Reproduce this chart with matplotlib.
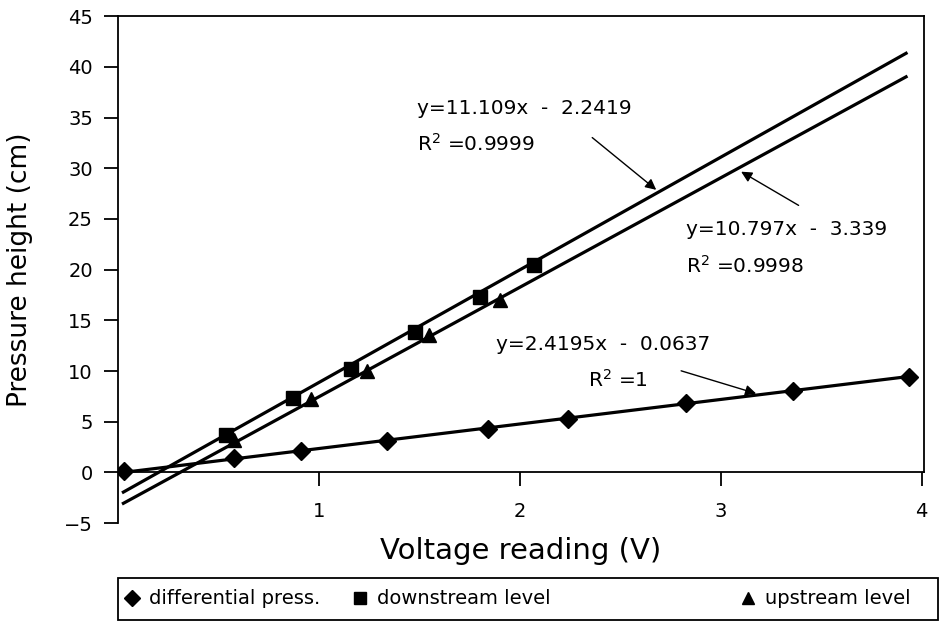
import numpy as np
import matplotlib.pyplot as plt
from matplotlib.patches import Rectangle

plt.rcParams['font.family'] = ['DejaVu Sans']

# Datos
x_diff = [0.03, 0.58, 0.91, 1.34, 1.84, 2.24, 2.83, 3.36, 3.94]
y_diff = [0.1, 1.4, 2.1, 3.1, 4.3, 5.3, 6.8, 8.0, 9.4]

x_down = [0.54, 0.87, 1.16, 1.48, 1.80, 2.07]
y_down = [3.7, 7.3, 10.2, 13.8, 17.3, 20.5]

x_up = [0.58, 0.96, 1.24, 1.55, 1.90]
y_up = [3.2, 7.2, 10.0, 13.6, 17.0]

# Rectas de ajuste (pendiente, ordenada, rango en x)
fit_slope = [2.4195, 11.109, 10.797]
fit_icpt = [-0.0637, -2.2419, -3.339]
fit_xmin = [0.03, 0.02, 0.02]
fit_xmax = [3.94, 3.93, 3.93]

eq_texts = ["y=2.4195x  -  0.0637", "y=11.109x  -  2.2419", "y=10.797x  -  3.339"]
r2_texts = ["R$^2$ =1", "R$^2$ =0.9999", "R$^2$ =0.9998"]

fig = plt.figure(figsize=(9.4, 6.22), dpi=100)
ax = fig.add_axes([0.1255, 0.159, 0.857, 0.815])

# Rectas
for m, b, x0, x1 in zip(fit_slope, fit_icpt, fit_xmin, fit_xmax):
    xs = np.array([x0, x1])
    ax.plot(xs, m * xs + b, color="black", lw=2.3, solid_capstyle="butt", zorder=2)

# Puntos
h1, = ax.plot(x_diff, y_diff, "D", color="black", ms=9.5, ls="none", zorder=3)
h2, = ax.plot(x_down, y_down, "s", color="black", ms=10.5, ls="none", zorder=3)
h3, = ax.plot(x_up, y_up, "^", color="black", ms=9.5, ls="none", zorder=3)

# Ejes
ax.set_xlim(0, 4.01)
ax.set_ylim(-5, 45)
ax.spines["bottom"].set_position(("data", 0))
ax.spines["right"].set_bounds(0, 45)
for s in ax.spines.values():
    s.set_linewidth(1.3)
ax.set_xticks([1, 2, 3, 4])
ax.set_yticks(np.arange(-5, 50, 5))
ax.tick_params(axis="x", direction="out", length=10, width=1.3, pad=11, labelsize=14)
ax.tick_params(axis="y", direction="out", length=10, width=1.3, pad=8, labelsize=14)

ax.set_xlabel("Voltage reading (V)", fontsize=21)
ax.xaxis.set_label_coords(0.5, -0.028)
ax.set_ylabel("Pressure height (cm)", fontsize=19)
ax.yaxis.set_label_coords(-0.105, 0.5)

# Anotaciones
arrow = dict(arrowstyle="-|>", color="black", lw=1.0, mutation_scale=16)
ax.text(1.49, 35.9, eq_texts[1], fontsize=14.5, va="center")
ax.text(1.49, 32.4, r2_texts[1], fontsize=14.5, va="center")
ax.annotate("", xy=(2.69, 27.7), xytext=(2.35, 33.2), arrowprops=arrow)

ax.text(2.83, 24.0, eq_texts[2], fontsize=14.5, va="center")
ax.text(2.83, 20.4, r2_texts[2], fontsize=14.5, va="center")
ax.annotate("", xy=(3.09, 29.8), xytext=(3.40, 26.2), arrowprops=arrow)

ax.text(1.88, 12.6, eq_texts[0], fontsize=14.5, va="center")
ax.text(2.34, 9.1, r2_texts[0], fontsize=14.5, va="center")
ax.annotate("", xy=(3.19, 7.7), xytext=(2.79, 10.1), arrowprops=arrow)

# Leyenda
fig.patches.append(Rectangle((118 / 940, 2 / 622), 820 / 940, 42 / 622,
                             transform=fig.transFigure, fill=False,
                             edgecolor="black", lw=1.3))
labels = ["differential press.", "downstream level", "upstream level"]
xpos = [124, 352, 740]
for h, lab, xp in zip([h1, h2, h3], labels, xpos):
    fig.legend([h], [lab], loc="center left", bbox_to_anchor=(xp / 940, 23 / 622),
               frameon=False, fontsize=14, handlelength=0.8, handletextpad=0.5,
               markerscale=0.85, borderaxespad=0, borderpad=0)

fig.savefig("out.png", dpi=100)
